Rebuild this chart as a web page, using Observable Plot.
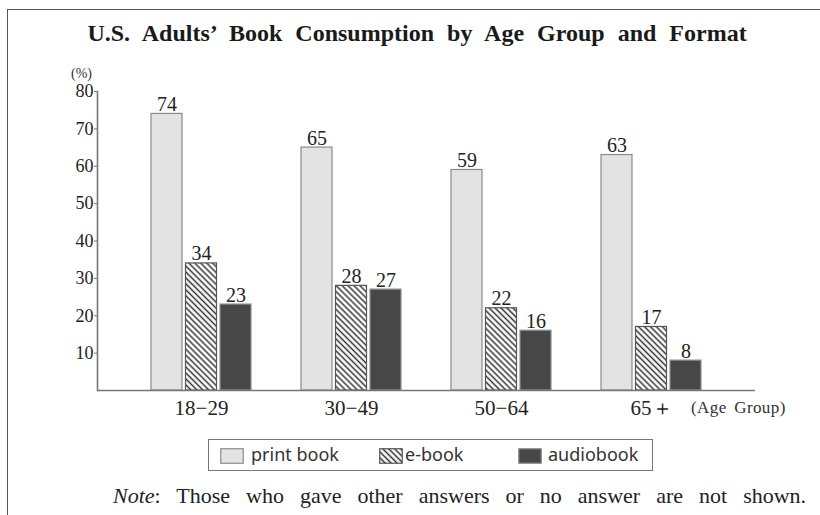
<!DOCTYPE html>
<html>
<head>
<meta charset="utf-8">
<script src="https://cdn.jsdelivr.net/npm/d3@7"></script>
<script src="https://cdn.jsdelivr.net/npm/@observablehq/plot@0.6"></script>
<style>
  html, body { margin: 0; padding: 0; background: #fff; width: 820px; height: 515px; overflow: hidden; }
  .abs { position: absolute; }
  #border { left: 7px; top: 9px; width: 900px; height: 600px; border-left: 1.5px solid #555; border-top: 1.5px solid #555; }
  #title { left: 0; width: 834px; top: 20px; text-align: center; font-family: "Liberation Serif", serif; font-weight: bold; font-size: 24px; word-spacing: 7px; color: #1a1a1a; white-space: nowrap; }
  #pct { left: 71px; top: 66px; font-family: "Liberation Serif", serif; font-size: 14px; color: #333; }
  #agegroup { left: 691px; top: 398px; font-family: "Liberation Serif", serif; font-size: 17px; word-spacing: 3px; letter-spacing: 0.4px; color: #333; white-space: nowrap; }
  #legend { left: 208px; top: 439px; width: 443px; height: 30px; border: 1.5px solid #777; font-family: "Noto Sans", sans-serif; font-size: 18px; color: #333; }
  #legend .sw { position: absolute; top: 8px; }
  #legend .lab { position: absolute; top: 2px; white-space: nowrap; line-height: 24px; }
  #note { left: 113px; top: 483px; font-family: "Liberation Serif", serif; font-size: 22px; word-spacing: 10.5px; color: #222; white-space: nowrap; }
</style>
</head>
<body>
<svg width="0" height="0" style="position:absolute">
  <defs>
    <pattern id="hatch" patternUnits="userSpaceOnUse" width="4.2" height="4.2" patternTransform="rotate(-45)">
      <rect width="4.2" height="4.2" fill="#fff"></rect>
      <line x1="2.1" y1="-1" x2="2.1" y2="5.2" stroke="#333" stroke-width="1.5"></line>
    </pattern>
  </defs>
</svg>
<div id="border" class="abs"></div>
<div id="title" class="abs">U.S. Adults’ Book Consumption by Age Group and Format</div>
<div id="chart" class="abs" style="left:0;top:0"></div>
<div id="pct" class="abs">(%)</div>
<div id="agegroup" class="abs">(Age Group)</div>
<div id="legend" class="abs"></div>
<div id="note" class="abs"><i>Note</i>: Those who gave other answers or no answer are not shown.</div>
<script>
// ---- data ----
const groups = ["18−29", "30−49", "50−64", "65＋"];
const formats = ["print book", "e-book", "audiobook"];
const printBook = [74, 65, 59, 63];
const eBook = [34, 28, 22, 17];
const audioBook = [23, 27, 16, 8];
const yTicks = [10, 20, 30, 40, 50, 60, 70, 80];

const rows = (vals) => groups.map((g, i) => ({group: g, value: vals[i]}));
const printRows = rows(printBook);
const eRows = rows(eBook);
const audioRows = rows(audioBook);

const barW = 31, gap = 3.5;
const styles = [
  {fill: "#e3e3e3", stroke: "#8a8a8a"},
  {fill: "url(#hatch)", stroke: "#555"},
  {fill: "#474747", stroke: "#8f8f8f"}
];
const series = [printRows, eRows, audioRows];

const marks = [];
series.forEach((data, j) => {
  marks.push(Plot.barY(data, {
    x: "group", y: "value",
    fill: styles[j].fill, stroke: styles[j].stroke, strokeWidth: 1.2,
    insetLeft: j * (barW + gap), insetRight: (2 - j) * (barW + gap)
  }));
  marks.push(Plot.text(data, {
    x: "group", y: "value", text: "value",
    dx: (j - 1) * (barW + gap), dy: -3, lineAnchor: "bottom",
    fontSize: 20, fill: "#222"
  }));
});

const chart = Plot.plot({
  width: 820,
  height: 430,
  marginTop: 91,
  marginBottom: 40,
  marginLeft: 97,
  marginRight: 65,
  style: {fontFamily: "Liberation Serif, serif", background: "transparent", color: "#222"},
  x: {domain: groups, paddingInner: 0.33, paddingOuter: 0.35, label: null},
  y: {domain: [0, 80], label: null},
  marks: [
    ...marks,
    Plot.ruleY([0], {stroke: "#777", strokeWidth: 1.6}),
    Plot.frame({anchor: "left", stroke: "#777", strokeWidth: 1.6}),
    Plot.axisY({ticks: yTicks, tickSize: 3, tickPadding: 1, fontSize: 18, stroke: "#777", fill: "#222", label: null}),
    Plot.axisX({tickSize: 0, tickPadding: 10, fontSize: 21, fill: "#222", label: null})
  ]
});
document.getElementById("chart").appendChild(chart);

// ---- legend ----
const legend = document.getElementById("legend");
const swX = [11, 170, 309];
const labX = [42, 196, 339];
formats.forEach((f, j) => {
  const sw = document.createElementNS("http://www.w3.org/2000/svg", "svg");
  sw.setAttribute("class", "sw");
  sw.setAttribute("width", 24);
  sw.setAttribute("height", 16);
  sw.style.left = swX[j] + "px";
  const r = document.createElementNS("http://www.w3.org/2000/svg", "rect");
  r.setAttribute("x", 0.75); r.setAttribute("y", 0.75);
  r.setAttribute("width", 22.5); r.setAttribute("height", 14.5);
  r.setAttribute("fill", styles[j].fill);
  r.setAttribute("stroke", styles[j].stroke);
  r.setAttribute("stroke-width", 1.2);
  sw.appendChild(r);
  legend.appendChild(sw);
  const lab = document.createElement("div");
  lab.className = "lab";
  lab.style.left = labX[j] + "px";
  lab.textContent = f;
  legend.appendChild(lab);
});
</script>
</body>
</html>
